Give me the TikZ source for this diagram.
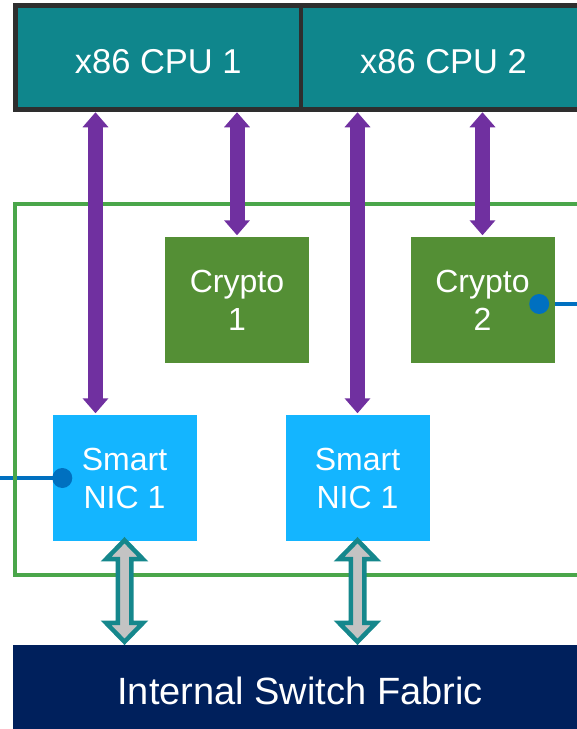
\documentclass[tikz,border=0pt]{standalone}
\usepackage{fontspec}
\setmainfont{Liberation Sans}
\usetikzlibrary{arrows.meta,calc,backgrounds}

\definecolor{cputeal}{HTML}{0F868C}
\definecolor{cpuedge}{HTML}{2E2E2E}
\definecolor{boardgreen}{HTML}{4AA64A}
\definecolor{cryptogreen}{HTML}{548F35}
\definecolor{nicblue}{HTML}{14B5FF}
\definecolor{fabricnavy}{HTML}{00205C}
\definecolor{buspurple}{HTML}{7030A0}
\definecolor{linkteal}{HTML}{15878C}
\definecolor{linkgrey}{HTML}{C3C3C3}
\definecolor{portblue}{HTML}{0070C0}

% double-headed fat link between two points (tip to tip)
\newcommand\fatlink[2]{%
  \draw[greylink] (#1) -- ++(18.5,19) -- ++(-11.75,0) -- ($(#2)+(6.75,-19)$)
    -- ++(11.75,0) -- (#2) -- ++(-18.5,-19) -- ++(11.75,0)
    -- ($(#1)+(-6.75,19)$) -- ++(-11.75,0) -- cycle;}

\begin{document}
\begin{tikzpicture}[x=1pt,y=-1pt,
  cpubox/.style={draw=cpuedge, line width=4.5pt, fill=cputeal, text=white,
    minimum height=104pt, inner sep=0pt, text height=31pt, text depth=0pt,
    font=\fontsize{34.5}{40}\selectfont},
  unitbox/.style={minimum width=144pt, minimum height=126pt, inner sep=0pt,
    text=white, align=center, font=\fontsize{32}{38}\selectfont},
  cryptobox/.style={unitbox, fill=cryptogreen},
  nicbox/.style={unitbox, fill=nicblue},
  board/.style={draw=boardgreen, line width=4.5pt, inner sep=0pt},
  fabricbar/.style={fill=fabricnavy, text=white, inner sep=0pt,
    font=\fontsize{38}{44}\selectfont},
  bus/.style={buspurple, line width=15pt,
    {Triangle[width=25pt,length=15pt]}-{Triangle[width=25pt,length=15pt]},
    shorten <=0.5pt, shorten >=1.5pt},
  greylink/.style={draw=linkteal, fill=linkgrey, line width=4.5pt, line join=miter},
  port/.style={circle, fill=portblue, minimum size=20pt, inner sep=0pt},
  portline/.style={draw=portblue, line width=4.5pt}]

\useasboundingbox (0,0) rectangle (577,729);
\clip (0,0) rectangle (577,729);

% board outline
\node[board, minimum width=585pt, minimum height=371pt] (board) at (307.5,389.5) {};

% host CPUs
\node[cpubox, minimum width=285.5pt] (cpu1) at (158.25,57.5) {x86 CPU 1};
\node[cpubox, minimum width=285pt] (cpu2) at (443.5,57.5) {x86 CPU 2};

% crypto engines
\node[cryptobox] (crypto1) at (237,300) {Crypto\\1};
\node[cryptobox] (crypto2) at (482.5,300) {Crypto\\2};

% smart NICs
\node[nicbox] (nic1) at (124.5,478) {Smart\\NIC 1};
\node[nicbox] (nic2) at (357.5,478) {Smart\\NIC 1};

% switch fabric
\node[fabricbar, minimum width=574pt, minimum height=92pt] (fabric) at (300,691)
  {Internal Switch Fabric};

% external ports
\node[port] (port1) at ($(nic1.west)+(10,0)$) {};
\node[port] (port2) at ($(crypto2.east)+(-15.5,4)$) {};
\coordinate (ext1) at (-5,478);
\coordinate (ext2) at (590,304);
\begin{scope}[on background layer]
  \draw[portline] (ext1) -- (port1.center);
  \draw[portline] (port2.center) -- (ext2);
\end{scope}

% CPU buses
\coordinate (bus1) at (95.5,0);
\draw[bus] (bus1 |- cpu1.south) -- (bus1 |- nic1.north);
\draw[bus] (crypto1.north |- cpu1.south) -- (crypto1.north);
\draw[bus] (nic2.north |- cpu2.south) -- (nic2.north);
\draw[bus] (crypto2.north |- cpu2.south) -- (crypto2.north);

% NIC to fabric links
\coordinate (l1t) at ($(nic1.south)+(0,-1)$);
\coordinate (l1b) at ($(nic1.south |- fabric.north)+(0,-3)$);
\coordinate (l2t) at ($(nic2.south)+(0,-1)$);
\coordinate (l2b) at ($(nic2.south |- fabric.north)+(0,-3)$);
\fatlink{l1t}{l1b}
\fatlink{l2t}{l2b}

\end{tikzpicture}
\end{document}
